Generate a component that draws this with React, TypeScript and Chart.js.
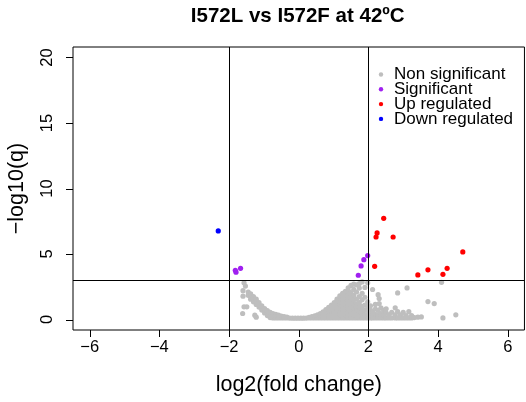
import { useEffect, useRef } from "react";
import { Chart, registerables } from "chart.js";

Chart.register(...registerables);

const titleText = "I572L vs I572F at 42ºC";
const xAxisTitle = "log2(fold change)";
const yAxisTitle = "−log10(q)";
const xTicks = [-6, -4, -2, 0, 2, 4, 6];
const yTicks = [0, 5, 10, 15, 20];
const xBox = [-6.48, 6.48];
const xView = [-6.48, 6.45];
const yBox = [-0.8, 20.8];
const foldThresholds = [-2, 2];
const qThreshold = 3;

const legendLabels = ["Non significant", "Significant", "Up regulated", "Down regulated"];
const seriesColors = ["#BEBEBE", "#A020F0", "#FF0000", "#0000FF"];

// non significant genes: [log2FC, list of -log10(q) values at that log2FC]
const nonSigColumns: [number, number[]][] = [
  [-1.61, [0.46]],
  [-1.6, [1.78, 2.2]],
  [-1.57, [0.97, 2.8]],
  [-1.53, [2.55]],
  [-1.49, [0.97]],
  [-1.45, [1.85, 2.1]],
  [-1.38, [1.55, 1.75, 1.95]],
  [-1.3, [1.35, 1.55, 1.75]],
  [-1.26, [0.33]],
  [-1.22, [0.18, 1.15, 1.35, 1.55]],
  [-1.14, [0.95, 1.12, 1.3]],
  [-1.06, [0.72, 0.88, 1.05]],
  [-0.98, [0.5, 0.66, 0.84]],
  [-0.9, [0.3, 0.48, 0.68]],
  [-0.82, [0.15, 0.32, 0.55]],
  [-0.74, [0.12, 0.28, 0.46]],
  [-0.66, [0.12, 0.26, 0.4]],
  [-0.58, [0.12, 0.33]],
  [-0.5, [0.12, 0.27]],
  [-0.42, [0.12, 0.22]],
  [-0.34, [0.12, 0.18]],
  [-0.26, [0.11]],
  [-0.18, [0.1]],
  [-0.1, [0.1]],
  [-0.02, [0.1]],
  [0.06, [0.1]],
  [0.14, [0.1]],
  [0.22, [0.11]],
  [0.3, [0.12, 0.16]],
  [0.38, [0.12, 0.22]],
  [0.46, [0.12, 0.28]],
  [0.54, [0.12, 0.36]],
  [0.62, [0.12, 0.3, 0.46]],
  [0.7, [0.12, 0.34, 0.58]],
  [0.78, [0.12, 0.36, 0.6, 0.76]],
  [0.86, [0.12, 0.36, 0.62, 0.92]],
  [0.94, [0.12, 0.38, 0.64, 0.9, 1.1]],
  [1.02, [0.12, 0.38, 0.64, 0.9, 1.15, 1.3]],
  [1.1, [0.12, 0.38, 0.64, 0.9, 1.15, 1.4, 1.55]],
  [1.18, [0.12, 0.38, 0.64, 0.9, 1.15, 1.4, 1.65, 1.8]],
  [1.26, [0.12, 0.38, 0.64, 0.9, 1.15, 1.4, 1.65, 1.9, 2.0]],
  [1.34, [0.12, 0.38, 0.64, 0.9, 1.15, 1.4, 1.65, 1.9, 2.15]],
  [1.42, [0.12, 0.38, 0.64, 0.9, 1.15, 1.4, 1.7, 1.95, 2.2, 2.42]],
  [1.5, [0.12, 0.38, 0.64, 0.9, 1.15, 1.45, 1.75, 2.05, 2.6]],
  [1.58, [0.12, 0.38, 0.64, 0.9, 1.2, 1.5, 1.85, 2.3, 2.7]],
  [1.66, [0.12, 0.38, 0.64, 0.9, 1.2, 1.55, 2.1, 2.65]],
  [1.74, [0.12, 0.38, 0.64, 0.95, 1.3, 1.75, 2.4, 2.75]],
  [1.82, [0.12, 0.38, 0.64, 1.0, 1.5, 2.0, 2.87]],
  [1.9, [0.12, 0.38, 0.7, 1.1, 1.7, 2.45]],
  [1.98, [0.12, 0.38, 0.7, 1.0, 1.35, 2.8]],
  [2.06, [0.12, 0.38, 0.7, 1.05]],
  [2.12, [0.12, 0.35, 0.65, 2.29]],
  [2.2, [0.12, 0.4, 0.8, 1.15]],
  [2.28, [0.12, 0.35, 0.7, 1.9]],
  [2.31, [1.6, 1.22]],
  [2.36, [0.12, 0.45, 0.9]],
  [2.44, [0.12, 0.35, 0.7]],
  [2.51, [0.12, 0.5, 0.82]],
  [2.59, [0.12, 0.35]],
  [2.67, [0.12, 0.55]],
  [2.77, [0.12, 0.35, 0.89]],
  [2.84, [0.12, 0.6, 2.03]],
  [2.92, [0.12, 0.35]],
  [3.0, [0.12, 0.55]],
  [3.08, [0.12, 0.3]],
  [3.11, [2.41]],
  [3.16, [0.12, 0.6]],
  [3.24, [0.12, 0.3]],
  [3.32, [0.15]],
  [3.42, [0.18]],
  [3.52, [0.2]],
  [3.71, [1.37]],
  [3.89, [1.22]],
  [4.1, [2.84]],
  [4.14, [0.12]],
  [4.51, [0.36]],
];

const sigX = [-1.82, -1.8, -1.67, 1.71, 1.79, 1.87, 1.98];
const sigY = [3.76, 3.61, 3.91, 3.38, 4.09, 4.57, 4.88];
const upX = [2.44, 2.25, 2.22, 2.71, 2.18, 3.42, 3.71, 4.14, 4.26, 4.71];
const upY = [7.72, 6.61, 6.3, 6.3, 4.06, 3.4, 3.79, 3.45, 3.91, 5.16];
const downX = [-2.31];
const downY = [6.76];

const FONT = "'Liberation Sans', Arial, Helvetica, sans-serif";

export default function App() {
  const ref = useRef<HTMLCanvasElement>(null);

  useEffect(() => {
    const canvas = ref.current;
    if (!canvas) return;
    const pts = (xs: number[], ys: number[]) => xs.map((x, i) => ({ x, y: ys[i] }));
    const nonSigPts = nonSigColumns.flatMap(([x, ys]) => ys.map((y) => ({ x, y })));

    const overlay = {
      id: "rbaseOverlay",
      afterDatasetsDraw(chart: any) {
        const ctx = chart.ctx as CanvasRenderingContext2D;
        const sx = chart.scales.x;
        const sy = chart.scales.y;
        const L = sx.getPixelForValue(xBox[0]);
        const R = sx.getPixelForValue(xBox[1]);
        const T = sy.getPixelForValue(yBox[1]);
        const B = sy.getPixelForValue(yBox[0]);
        ctx.save();
        ctx.strokeStyle = "#000";
        ctx.lineWidth = 1;

        // threshold lines
        ctx.beginPath();
        foldThresholds.forEach((v) => {
          const p = Math.round(sx.getPixelForValue(v)) + 0.5;
          ctx.moveTo(p, T);
          ctx.lineTo(p, B);
        });
        const hp = Math.round(sy.getPixelForValue(qThreshold)) + 0.5;
        ctx.moveTo(L, hp);
        ctx.lineTo(R, hp);
        ctx.stroke();

        // box
        ctx.beginPath();
        ctx.rect(L, T, R - L, B - T);
        ctx.stroke();

        // ticks
        ctx.beginPath();
        xTicks.forEach((v) => {
          const p = Math.round(sx.getPixelForValue(v)) + 0.5;
          ctx.moveTo(p, B);
          ctx.lineTo(p, B + 7);
        });
        yTicks.forEach((v) => {
          const p = Math.round(sy.getPixelForValue(v)) + 0.5;
          ctx.moveTo(L, p);
          ctx.lineTo(L - 7, p);
        });
        ctx.stroke();

        ctx.fillStyle = "#000";
        ctx.font = `16.5px ${FONT}`;
        ctx.textAlign = "center";
        ctx.textBaseline = "middle";
        xTicks.forEach((v) => {
          const lab = v < 0 ? "−" + Math.abs(v) : String(v);
          ctx.fillText(lab, sx.getPixelForValue(v), B + 17);
        });
        yTicks.forEach((v) => {
          ctx.save();
          ctx.translate(L - 26, sy.getPixelForValue(v));
          ctx.rotate(-Math.PI / 2);
          ctx.fillText(String(v), 0, 0);
          ctx.restore();
        });

        // axis titles
        ctx.font = `21.5px ${FONT}`;
        ctx.fillText(xAxisTitle, (L + R) / 2, B + 55);
        ctx.save();
        ctx.translate(L - 56, (T + B) / 2);
        ctx.rotate(-Math.PI / 2);
        ctx.fillText(yAxisTitle, 0, 0);
        ctx.restore();

        // title
        ctx.font = `bold 20.5px ${FONT}`;
        ctx.fillText(titleText, (L + R) / 2 - 1, 16);

        // legend
        ctx.font = `17px ${FONT}`;
        ctx.textAlign = "left";
        legendLabels.forEach((lab, i) => {
          const y = 74.5 + i * 14.8;
          ctx.fillStyle = seriesColors[i];
          ctx.beginPath();
          ctx.arc(381, y, 2.2, 0, Math.PI * 2);
          ctx.fill();
          ctx.fillStyle = "#000";
          ctx.fillText(lab, 394, y);
        });
        ctx.restore();
      },
    };

    const mk = (data: { x: number; y: number }[], color: string) => ({
      data,
      backgroundColor: color,
      borderWidth: 0,
      pointRadius: 2.6,
      pointHoverRadius: 2.6,
      pointStyle: "circle" as const,
    });

    const chart = new Chart(canvas, {
      type: "scatter",
      data: {
        datasets: [
          mk(nonSigPts, seriesColors[0]),
          mk(pts(sigX, sigY), seriesColors[1]),
          mk(pts(upX, upY), seriesColors[2]),
          mk(pts(downX, downY), seriesColors[3]),
        ],
      },
      options: {
        responsive: false,
        animation: false,
        events: [],
        layout: { padding: { left: 73, top: 47, right: 0, bottom: 72 } },
        plugins: { legend: { display: false }, tooltip: { enabled: false }, title: { display: false } },
        scales: {
          x: { type: "linear", min: xView[0], max: xView[1], display: false },
          y: { type: "linear", min: yBox[0], max: yBox[1], display: false },
        },
      },
      plugins: [overlay],
    });
    return () => chart.destroy();
  }, []);

  return (
    <div style={{ position: "fixed", left: 0, top: 0, width: 526, height: 402, background: "#fff" }}>
      <canvas ref={ref} width={526} height={402} style={{ display: "block" }} />
    </div>
  );
}
